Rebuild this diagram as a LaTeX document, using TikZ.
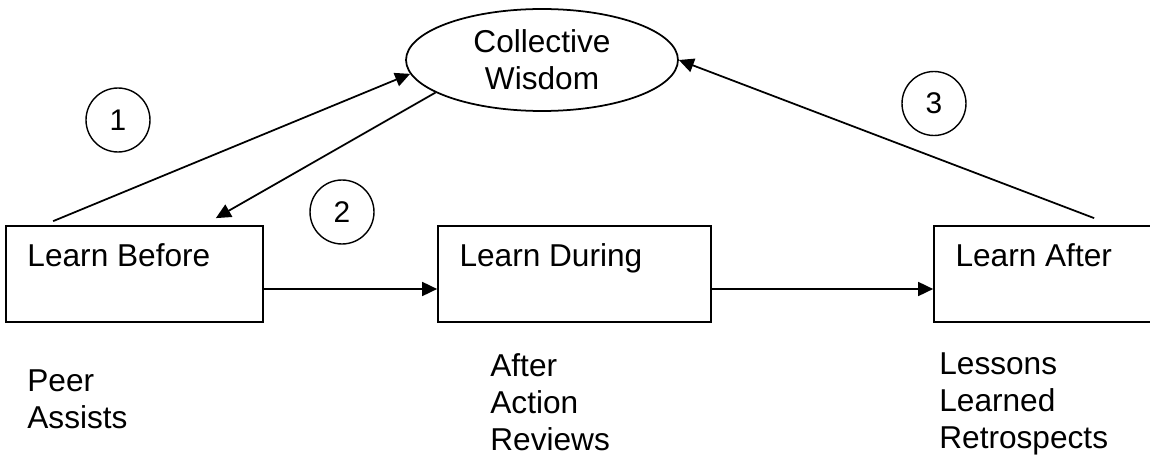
\documentclass[tikz,border=0pt]{standalone}
\usepackage{fontspec}
\setmainfont{Liberation Sans}
\usepackage{tikz}
\usetikzlibrary{calc,arrows.meta,shapes.geometric}
\tikzset{>={Triangle[length=0.3cm,width=0.28cm]}}
\tikzset{stage/.style={draw,line width=1pt,minimum height=1.92cm,inner sep=0pt},
  tag/.style={anchor=base west,inner sep=0pt,font=\fontsize{18}{21}\selectfont},
  num/.style={draw,circle,line width=0.8pt,minimum size=1.28cm,inner sep=0pt,font=\fontsize{17}{20}\selectfont},
  conn/.style={line width=1pt,->}}

\begin{document}
\begin{tikzpicture}[x=0.02cm,y=-0.02cm]
    \useasboundingbox (0,0) rectangle (1150,456);
    \clip (0,0) rectangle (1150,456);
    % boxes and the pool
    \node[stage,minimum width=5.14cm] (before) at (134.5,274) {};
    \node[stage,minimum width=5.46cm] (during) at (574.5,274) {};
    \node[stage,minimum width=5.2cm] (after) at (1064,274) {};
    \node[draw,ellipse,line width=1pt,minimum width=5.44cm,minimum height=2.04cm,inner sep=0pt,
      align=center,font=\fontsize{18}{21}\selectfont] (wisdom) at (542,60) {Collective\\Wisdom};
    \node[tag] (beforename) at ($(before.north west)+(22,41)$) {Learn Before};
    \node[tag] (duringname) at ($(during.north west)+(22,41)$) {Learn During};
    \node[tag] (aftername) at ($(after.north west)+(22,41)$) {Learn After};
    % tools under each box (base = last line)
    \node[tag,align=left] (beforetools) at (27,428) {Peer\\Assists};
    \node[tag,align=left] (duringtools) at (490,450) {After\\Action\\Reviews};
    \node[tag,align=left] (aftertools) at (939,448) {Lessons\\Learned\\Retrospects};
    % numbered steps
    \node[num] (one) at (118,120) {1};
    \node[num] (two) at (342,212) {2};
    \node[num] (three) at (934,103.5) {3};
    \draw[conn] ($(before.north west)+(48,-4)$) -- (wisdom.186);
    \draw[conn] (wisdom.197) -- ($(before.north east)+(-48,-7)$);
    \draw[conn] ($(after.north west)+(161,-7)$) -- (wisdom.east);
    \draw[conn] ($(before.east)+(0,15)$) -- ($(during.west)+(0,15)$);
    \draw[conn] ($(during.east)+(0,15)$) -- ($(after.west)+(0,15)$);
\end{tikzpicture}
\end{document}
